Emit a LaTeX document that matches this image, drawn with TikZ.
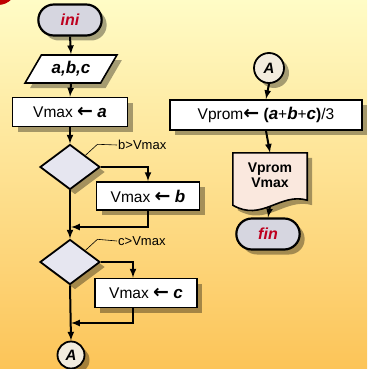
\documentclass[tikz,border=0pt]{standalone}
\usepackage{fontspec}
\setmainfont{Liberation Sans}
\newfontfamily\flechafont{DejaVu Sans}
\usetikzlibrary{arrows, shapes.geometric, shapes.misc, shadows, calc}

\definecolor{fondoA}{RGB}{255,252,198}
\definecolor{fondoB}{RGB}{254,230,140}
\definecolor{fondoC}{RGB}{252,196,88}
\definecolor{rojo}{RGB}{190,0,30}
\definecolor{grisT}{RGB}{214,214,224}
\definecolor{grisD}{RGB}{230,230,240}
\definecolor{crema}{RGB}{242,236,222}
\definecolor{rosa}{RGB}{250,232,222}

\newcommand{\asig}{{\flechafont\bfseries\fontsize{19}{19}\selectfont ←}}
\newcommand{\var}[1]{{\fontsize{17}{17}\selectfont\textbf{\textit{#1}}}}

\tikzset{
  sombra/.style={drop shadow={shadow xshift=5pt, shadow yshift=-5pt, fill=black, opacity=0.35}},
  terminal/.style={rounded rectangle, draw, line width=2.2pt, fill=grisT, sombra,
    minimum width=70pt, minimum height=31pt, text=rojo,
    font=\fontsize{16}{18}\selectfont\bfseries\itshape},
  datos/.style={trapezium, trapezium left angle=60, trapezium right angle=120,
    trapezium stretches=true, draw, line width=1.6pt, fill=white, sombra,
    minimum width=92pt, minimum height=28pt,
    font=\fontsize{17}{18}\selectfont\bfseries\itshape},
  proceso/.style={rectangle, draw, line width=1.8pt, fill=white, sombra,
    minimum height=29pt, font=\fontsize{15.5}{17}\selectfont},
  decision/.style={diamond, draw, line width=1.8pt, fill=grisD, sombra,
    minimum width=60pt, minimum height=45pt, inner sep=0pt},
  conector/.style={circle, draw, line width=1.8pt, fill=crema, sombra,
    inner sep=0pt, font=\fontsize{15}{17}\selectfont\bfseries\itshape},
  etiq/.style={anchor=west, inner sep=1pt, font=\fontsize{13}{15}\selectfont},
  guia/.style={line width=0.6pt},
  flecha/.style={->, line width=2pt},
}

\begin{document}
\begin{tikzpicture}[>=latex, x=1pt, y=-1pt]
    % Fondo degradado
    \shade[top color=fondoA, middle color=fondoB, bottom color=fondoC]
    (0,0) rectangle (367,369);
    \useasboundingbox (0,0) rectangle (367,369);
    \begin{scope}
        \clip (0,0) rectangle (367,369);
        \fill[red!75!black] (-2,-14) circle (19);
    \end{scope}

    % Columna izquierda
    \node[terminal] (ini) at (70,20) {ini};
    \node[datos] (abc) at (71,69) {a,b,c};
    \node[proceso, minimum width=115pt] (va) at (70,112) {Vmax \asig\ \var{a}};
    \node[decision] (d1) at (70,167) {};
    \node[proceso, minimum width=103pt, minimum height=28pt] (vb) at (148,196) {Vmax \asig\ \var{b}};
    \node[decision] (d2) at (70,262) {};
    \node[proceso, minimum width=102pt] (vc) at (146,293) {Vmax \asig\ \var{c}};
    \node[conector, minimum size=27pt] (aL) at (71,355) {A};

    % Etiquetas de las decisiones
    \node[etiq] (lb) at (117,145) {b>Vmax};
    \node[etiq] (lc) at (117,241) {c>Vmax};
    \draw[guia] (d1.north east) -- ++(12,-11) -- (lb.west);
    \draw[guia] (d2.north east) -- ++(12,-11) -- (lc.west);

    % Puntos de union
    \coordinate (j1) at (71,227);
    \coordinate (j2) at (71,323);

    % Flechas columna izquierda
    \draw[flecha] (ini.south) -- (abc.north);
    \draw[flecha] (abc.south) -- (va.north);
    \draw[flecha] (va.south) -- (d1.north);
    \draw[flecha] (d1.east) -| (vb.north);
    \draw[flecha] (vb.south) |- (j1);
    \draw[flecha] (d1.south) -- (d2.north);
    \draw[flecha] (d2.east) -| ([xshift=-13pt]vc.north);
    \draw[flecha] ([xshift=-13pt]vc.south) |- (j2);
    \draw[flecha] (d2.south) -- (aL.north);

    % Columna derecha
    \node[conector, minimum size=30pt] (aR) at (269,68) {A};
    \node[proceso, minimum width=192pt, minimum height=30pt] (vp) at (266,115)
        {Vprom\asig\ \textbf{(}\var{a}+\var{b}+\var{c}\textbf{)}/3};
    \node[minimum width=74pt, minimum height=50pt, inner sep=0pt] (doc) at (270,178) {};
    \filldraw[line width=1.6pt, fill=rosa, sombra]
        (doc.north west) -- (doc.north east) -- ($(doc.south east)+(0,-3)$)
        .. controls ($(doc.south east)+(-27,-11)$) and ($(doc.south west)+(29,19)$)
        .. ($(doc.south west)+(0,2)$) -- cycle;
    \node[align=center, font=\fontsize{14}{15}\selectfont\bfseries] (doctxt)
        at ($(doc.center)+(0,-3)$) {Vprom\\Vmax};
    \node[terminal] (fin) at (268,234) {fin};

    % Flechas columna derecha
    \draw[flecha] (aR.south) -- (vp.north);
    \draw[flecha] (vp.south) -- (doc.north);
    \draw[flecha] ($(doc.south)+(0,3)$) -- (fin.north);
\end{tikzpicture}
\end{document}
